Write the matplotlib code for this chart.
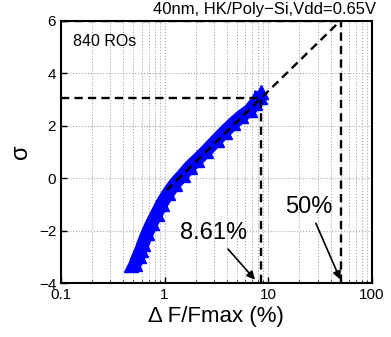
import matplotlib
matplotlib.use("Agg")
import matplotlib.pyplot as plt

plt.rcParams['font.family'] = ['Liberation Sans', 'DejaVu Sans']

# ring oscillator degradation vs normal quantile
df_pct = [0.47, 0.52, 0.56, 0.59, 0.62, 0.68, 0.75, 0.84, 0.94, 1.08, 1.26,
          1.50, 1.75, 2.04, 2.50, 3.17, 3.80, 4.59, 5.50, 6.65, 7.50, 8.30, 8.50]
sigma = [-3.30, -3.28, -2.95, -2.75, -2.50, -2.10, -1.73, -1.35, -0.97, -0.58, -0.21,
         0.12, 0.43, 0.68, 1.02, 1.45, 1.77, 2.08, 2.35, 2.59, 2.85, 3.10, 3.29]

# fitted line and the two projection points
fit_x = [1.04, 50]
fit_y = [-0.47, 6]
p1_x, p1_y = 8.61, 3.06
p2_x, p2_y = 50, 6

xlim = (0.1, 100)
ylim = (-4, 6)
yticks = [-4, -2, 0, 2, 4, 6]
xticks = [0.1, 1, 10, 100]
xticklabels = ['0.1', '1', '10', '100']

fig = plt.figure(figsize=(3.91, 3.37), dpi=100)
ax = fig.add_axes([0.156, 0.160, 0.795, 0.779])
ax.set_xscale('log')

ax.plot(df_pct, sigma, color='blue', lw=9.5, solid_capstyle='butt', zorder=3)
ax.plot(df_pct, sigma, '^', color='blue', ms=10, zorder=3)

dash = dict(color='black', lw=1.7, ls=(0, (3.5, 2.2)), zorder=4)
ax.plot(fit_x, fit_y, **dash)
ax.plot([xlim[0], p1_x], [p1_y, p1_y], **dash)
ax.plot([p1_x, p1_x], [ylim[0], p1_y], **dash)
ax.plot([xlim[0], p2_x], [p2_y, p2_y], **dash)
ax.plot([p2_x, p2_x], [ylim[0], p2_y], **dash)

arrow = dict(arrowstyle='-|>', color='black', lw=1.2, mutation_scale=12)
ax.annotate('8.61%', xy=(7.76, -3.95), xytext=(3.0, -2.1), fontsize=17,
            ha='center', va='center', arrowprops=arrow)
ax.annotate('50%', xy=(50.9, -3.96), xytext=(24.6, -1.1), fontsize=17,
            ha='center', va='center', arrowprops=arrow)

ax.text(0.13, 5.2, '840 ROs', fontsize=11.5, ha='left', va='center')

ax.set_xlim(*xlim)
ax.set_ylim(*ylim)
ax.set_yticks(yticks)
ax.set_xticks(xticks)
ax.set_xticklabels(xticklabels)
ax.tick_params(direction='in', labelsize=11, width=1, length=4)
ax.tick_params(which='minor', direction='in', length=2)
ax.grid(True, which='major', ls=':', color='#a8a8a8', lw=0.8)
ax.grid(True, which='minor', axis='x', ls=':', color='#a8a8a8', lw=0.8)
for s in ax.spines.values():
    s.set_linewidth(1.5)

ax.set_xlabel('Δ F/Fmax (%)', fontsize=16, labelpad=3)
ax.set_ylabel('σ', fontsize=17, labelpad=5)

fig.text(376 / 391, 1 - 2 / 337, '40nm, HK/Poly\u2212Si,Vdd=0.65V', fontsize=12,
         ha='right', va='top')

fig.savefig('out.png', dpi=100)
